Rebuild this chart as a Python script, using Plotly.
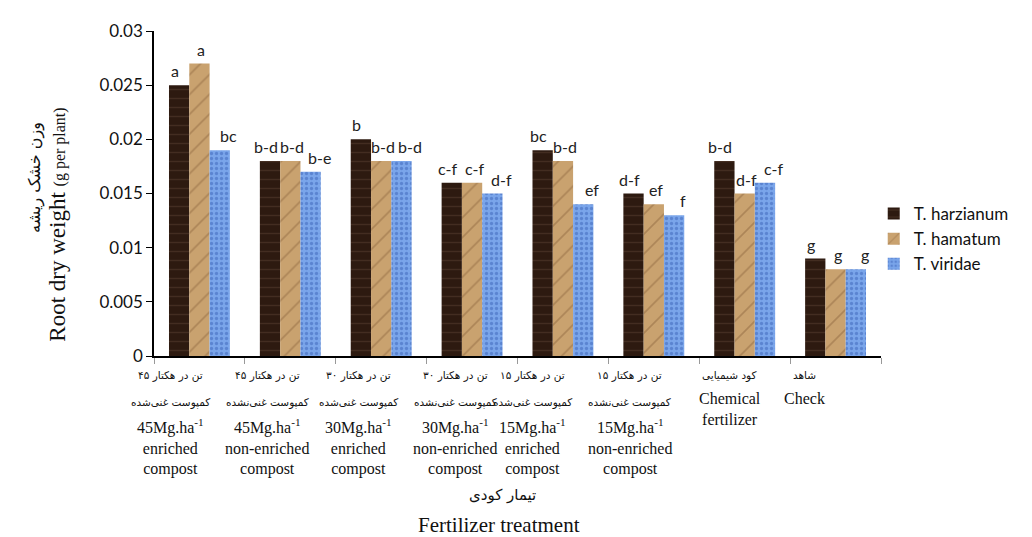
import plotly.graph_objects as go

categories = ["45E", "45N", "30E", "30N", "15E", "15N", "Chem", "Check"]
series_names = ["T. harzianum", "T. hamatum", "T. viridae"]
harzianum = [0.025, 0.018, 0.020, 0.016, 0.019, 0.015, 0.018, 0.009]
hamatum = [0.027, 0.018, 0.018, 0.016, 0.018, 0.014, 0.015, 0.008]
viridae = [0.019, 0.017, 0.018, 0.015, 0.014, 0.013, 0.016, 0.008]
letters_harzianum = ["a", "b-d", "b", "c-f", "bc", "d-f", "b-d", "g"]
letters_hamatum = ["a", "b-d", "b-d", "c-f", "b-d", "ef", "d-f", "g"]
letters_viridae = ["bc", "b-e", "b-d", "d-f", "ef", "f", "c-f", "g"]

persian_line1 = ["۴۵ تن در هکتار", "۴۵ تن در هکتار", "۳۰ تن در هکتار", "۳۰ تن در هکتار",
                 "۱۵ تن در هکتار", "۱۵ تن در هکتار", "کود شیمیایی", "شاهد"]
persian_line2 = ["کمپوست غنی‌شده", "کمپوست غنی‌نشده", "کمپوست غنی‌شده", "کمپوست غنی‌نشده",
                 "کمپوست غنی‌شده", "کمپوست غنی‌نشده", "", ""]
english_labels = ["45Mg.ha<sup>-1</sup><br>enriched<br>compost",
                  "45Mg.ha<sup>-1</sup><br>non-enriched<br>compost",
                  "30Mg.ha<sup>-1</sup><br>enriched<br>compost",
                  "30Mg.ha<sup>-1</sup><br>non-enriched<br>compost",
                  "15Mg.ha<sup>-1</sup><br>enriched<br>compost",
                  "15Mg.ha<sup>-1</sup><br>non-enriched<br>compost",
                  "Chemical<br>fertilizer",
                  "Check"]
label_xshift = [-29, -23, -23, -17, -30, -24, -15, -31]

LRM = "\u200e"

styles = [
    dict(color="#2d1a10", pattern=dict(shape="-", fgcolor="#5a4031", size=9, solidity=0.15)),
    dict(color="#c9a26f", pattern=dict(shape="/", fgcolor="#8f6840", size=14, solidity=0.12)),
    dict(color="#7aa5ea", pattern=dict(shape=".", fgcolor="#3c63b8", size=5, solidity=0.35)),
]

# plot geometry (pixels) used to place letters over each bar of a group
PLOT_W = 727
BARGAP = 0.33
bar_px = PLOT_W / len(categories) * (1 - BARGAP) / 3
letter_nudge = [-4, 2, 9]

fig = go.Figure()
series_vals = [harzianum, hamatum, viridae]
series_letters = [letters_harzianum, letters_hamatum, letters_viridae]
for name, vals, st in zip(series_names, series_vals, styles):
    fig.add_trace(go.Bar(
        x=categories, y=vals, name=name, legendgroup=name,
        marker=dict(color=st["color"], line=dict(width=0), pattern=st["pattern"]),
    ))

annotations = []
for k, (vals, lets) in enumerate(zip(series_vals, series_letters)):
    for cat, v, t in zip(categories, vals, lets):
        annotations.append(dict(x=cat, xref="x", y=v, yref="y", yanchor="bottom", yshift=3,
                                xshift=(k - 1) * bar_px + letter_nudge[k], text=t,
                                showarrow=False,
                                font=dict(family="Lato", size=16, color="#222")))

persian_font = dict(family="DejaVu Sans", size=10.5, color="#111")
for i, cat in enumerate(categories):
    annotations.append(dict(x=cat, xref="x", y=0, yref="paper", yanchor="top", yshift=-11,
                            xshift=label_xshift[i], text=LRM + persian_line1[i], showarrow=False,
                            font=persian_font))
    if persian_line2[i]:
        annotations.append(dict(x=cat, xref="x", y=0, yref="paper", yanchor="top", yshift=-38,
                                xshift=label_xshift[i], text=persian_line2[i], showarrow=False,
                                font=persian_font))
        ys = -58
    else:
        ys = -32
    annotations.append(dict(x=cat, xref="x", y=0, yref="paper", yanchor="top", yshift=ys,
                            xshift=label_xshift[i], text=english_labels[i], showarrow=False,
                            font=dict(family="Liberation Serif", size=16, color="#111")))

annotations += [
    dict(x=0, xref="paper", xanchor="center", xshift=-119, y=0.548, yref="paper",
         yanchor="middle", textangle=-90, showarrow=False,
         text="وزن خشک ریشه", font=dict(family="DejaVu Sans", size=16, color="#111")),
    dict(x=0, xref="paper", xanchor="center", xshift=-96, y=0.404, yref="paper",
         yanchor="middle", textangle=-90, showarrow=False,
         text="Root dry weight <span style='font-size:16px'>(g per plant)</span>",
         font=dict(family="Liberation Serif", size=23, color="#111")),
    dict(x=0.48, xref="paper", xanchor="center", y=0, yref="paper", yanchor="middle",
         yshift=-139, showarrow=False,
         text="تیمار کودی", font=dict(family="DejaVu Sans", size=15, color="#111")),
    dict(x=0.475, xref="paper", xanchor="center", y=0, yref="paper", yanchor="middle",
         yshift=-169, showarrow=False,
         text="Fertilizer treatment", font=dict(family="Liberation Serif", size=21, color="#111")),
]

# page body has an 8px default margin, so the figure is 8px smaller and margins shifted
fig.update_layout(
    width=1024, height=529,
    margin=dict(l=146, r=151, t=16, b=181),
    paper_bgcolor="white", plot_bgcolor="white",
    barmode="group", bargap=BARGAP, bargroupgap=0,
    showlegend=True,
    legend=dict(x=0.99, xanchor="left", y=0.36, yanchor="middle",
                font=dict(family="Lato", size=17, color="#111"),
                itemwidth=30, tracegroupgap=0, bgcolor="rgba(0,0,0,0)"),
    xaxis=dict(range=[-0.5, 7.5], autorange=False, showticklabels=False, showline=True,
               linecolor="black", linewidth=1.5,
               ticks="outside", tickson="boundaries", ticklen=6, tickcolor="#999",
               showgrid=False, zeroline=False),
    yaxis=dict(range=[0, 0.03], autorange=False, dtick=0.005, showline=True, linecolor="black",
               linewidth=1.5, ticks="outside", ticklen=6, tickcolor="black", showgrid=False,
               zeroline=False, tickfont=dict(family="Lato", size=17, color="#111")),
    annotations=annotations,
)

fig.write_html("out.html")
